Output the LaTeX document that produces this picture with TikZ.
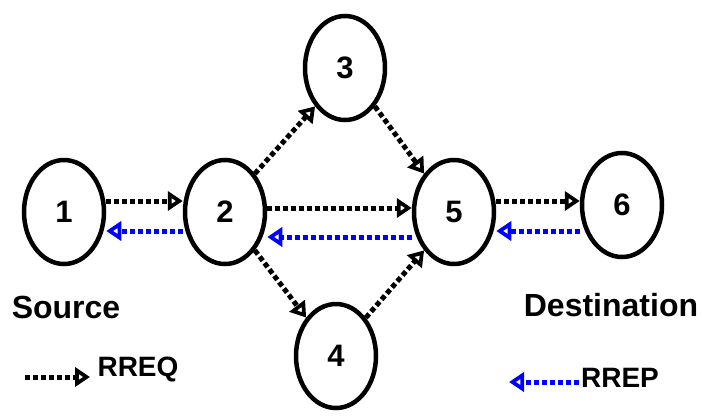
\documentclass[tikz,border=0pt]{standalone}
\usepackage{fontspec}
\setmainfont{Liberation Sans}
\usetikzlibrary{shapes.geometric,arrows.meta}
\begin{document}
\begin{tikzpicture}[x=1pt,y=-1pt,
  nd/.style={ellipse,draw,line width=4.5pt,minimum width=80pt,minimum height=104pt,inner sep=0pt,font=\fontsize{31}{34}\selectfont\bfseries},
  lbl/.style={font=\fontsize{32}{36}\selectfont\bfseries},
  leg/.style={font=\fontsize{28}{32}\selectfont\bfseries},
  req/.style={line width=5pt,dash pattern=on 5pt off 3pt,-{Triangle[open,length=15pt,width=19pt,line width=4pt]}},
  rep/.style={line width=5pt,dash pattern=on 5pt off 3pt,blue,-{Triangle[open,length=15pt,width=19pt,line width=4pt]}}]
\useasboundingbox (0,0) rectangle (702,418);
\node[nd] (n1) at (64,212) {1};
\node[nd] (n2) at (225,212) {2};
\node[nd] (n3) at (345,68) {3};
\node[nd] (n4) at (336,356) {4};
\node[nd] (n5) at (454,212) {5};
\node[nd] (n6) at (622,205) {6};
\node[lbl] (src) at (66,307) {Source};
\node[lbl] (dst) at (611,305) {Destination};
\coordinate (a1) at (25,377);
\coordinate (a2) at (90,377);
\node[leg] (rreq) at (138,369) {RREQ};
\coordinate (b1) at (579,382);
\coordinate (b2) at (509,382);
\node[leg] (rrep) at (620,378) {RREP};
\draw[req] (n1.east |- 0,201) -- (n2.west |- 0,201);
\draw[rep] (n2.west |- 0,231) -- (n1.east |- 0,231);
\draw[req] (n2.north east) -- (n3.south west);
\draw[req] (n3.south east) -- (n5.north west);
\draw[req] (n2.east |- 0,208) -- (n5.west |- 0,208);
\draw[rep] (n5.west |- 0,237) -- (n2.east |- 0,237);
\draw[req] (n2.south east) -- (n4.north west);
\draw[req] (n4.north east) -- (n5.south west);
\draw[req] (n5.east |- 0,201) -- (n6.west |- 0,201);
\draw[rep] (n6.west |- 0,231) -- (n5.east |- 0,231);
\draw[req] (a1) -- (a2);
\draw[rep] (b1) -- (b2);
\end{tikzpicture}
\end{document}
